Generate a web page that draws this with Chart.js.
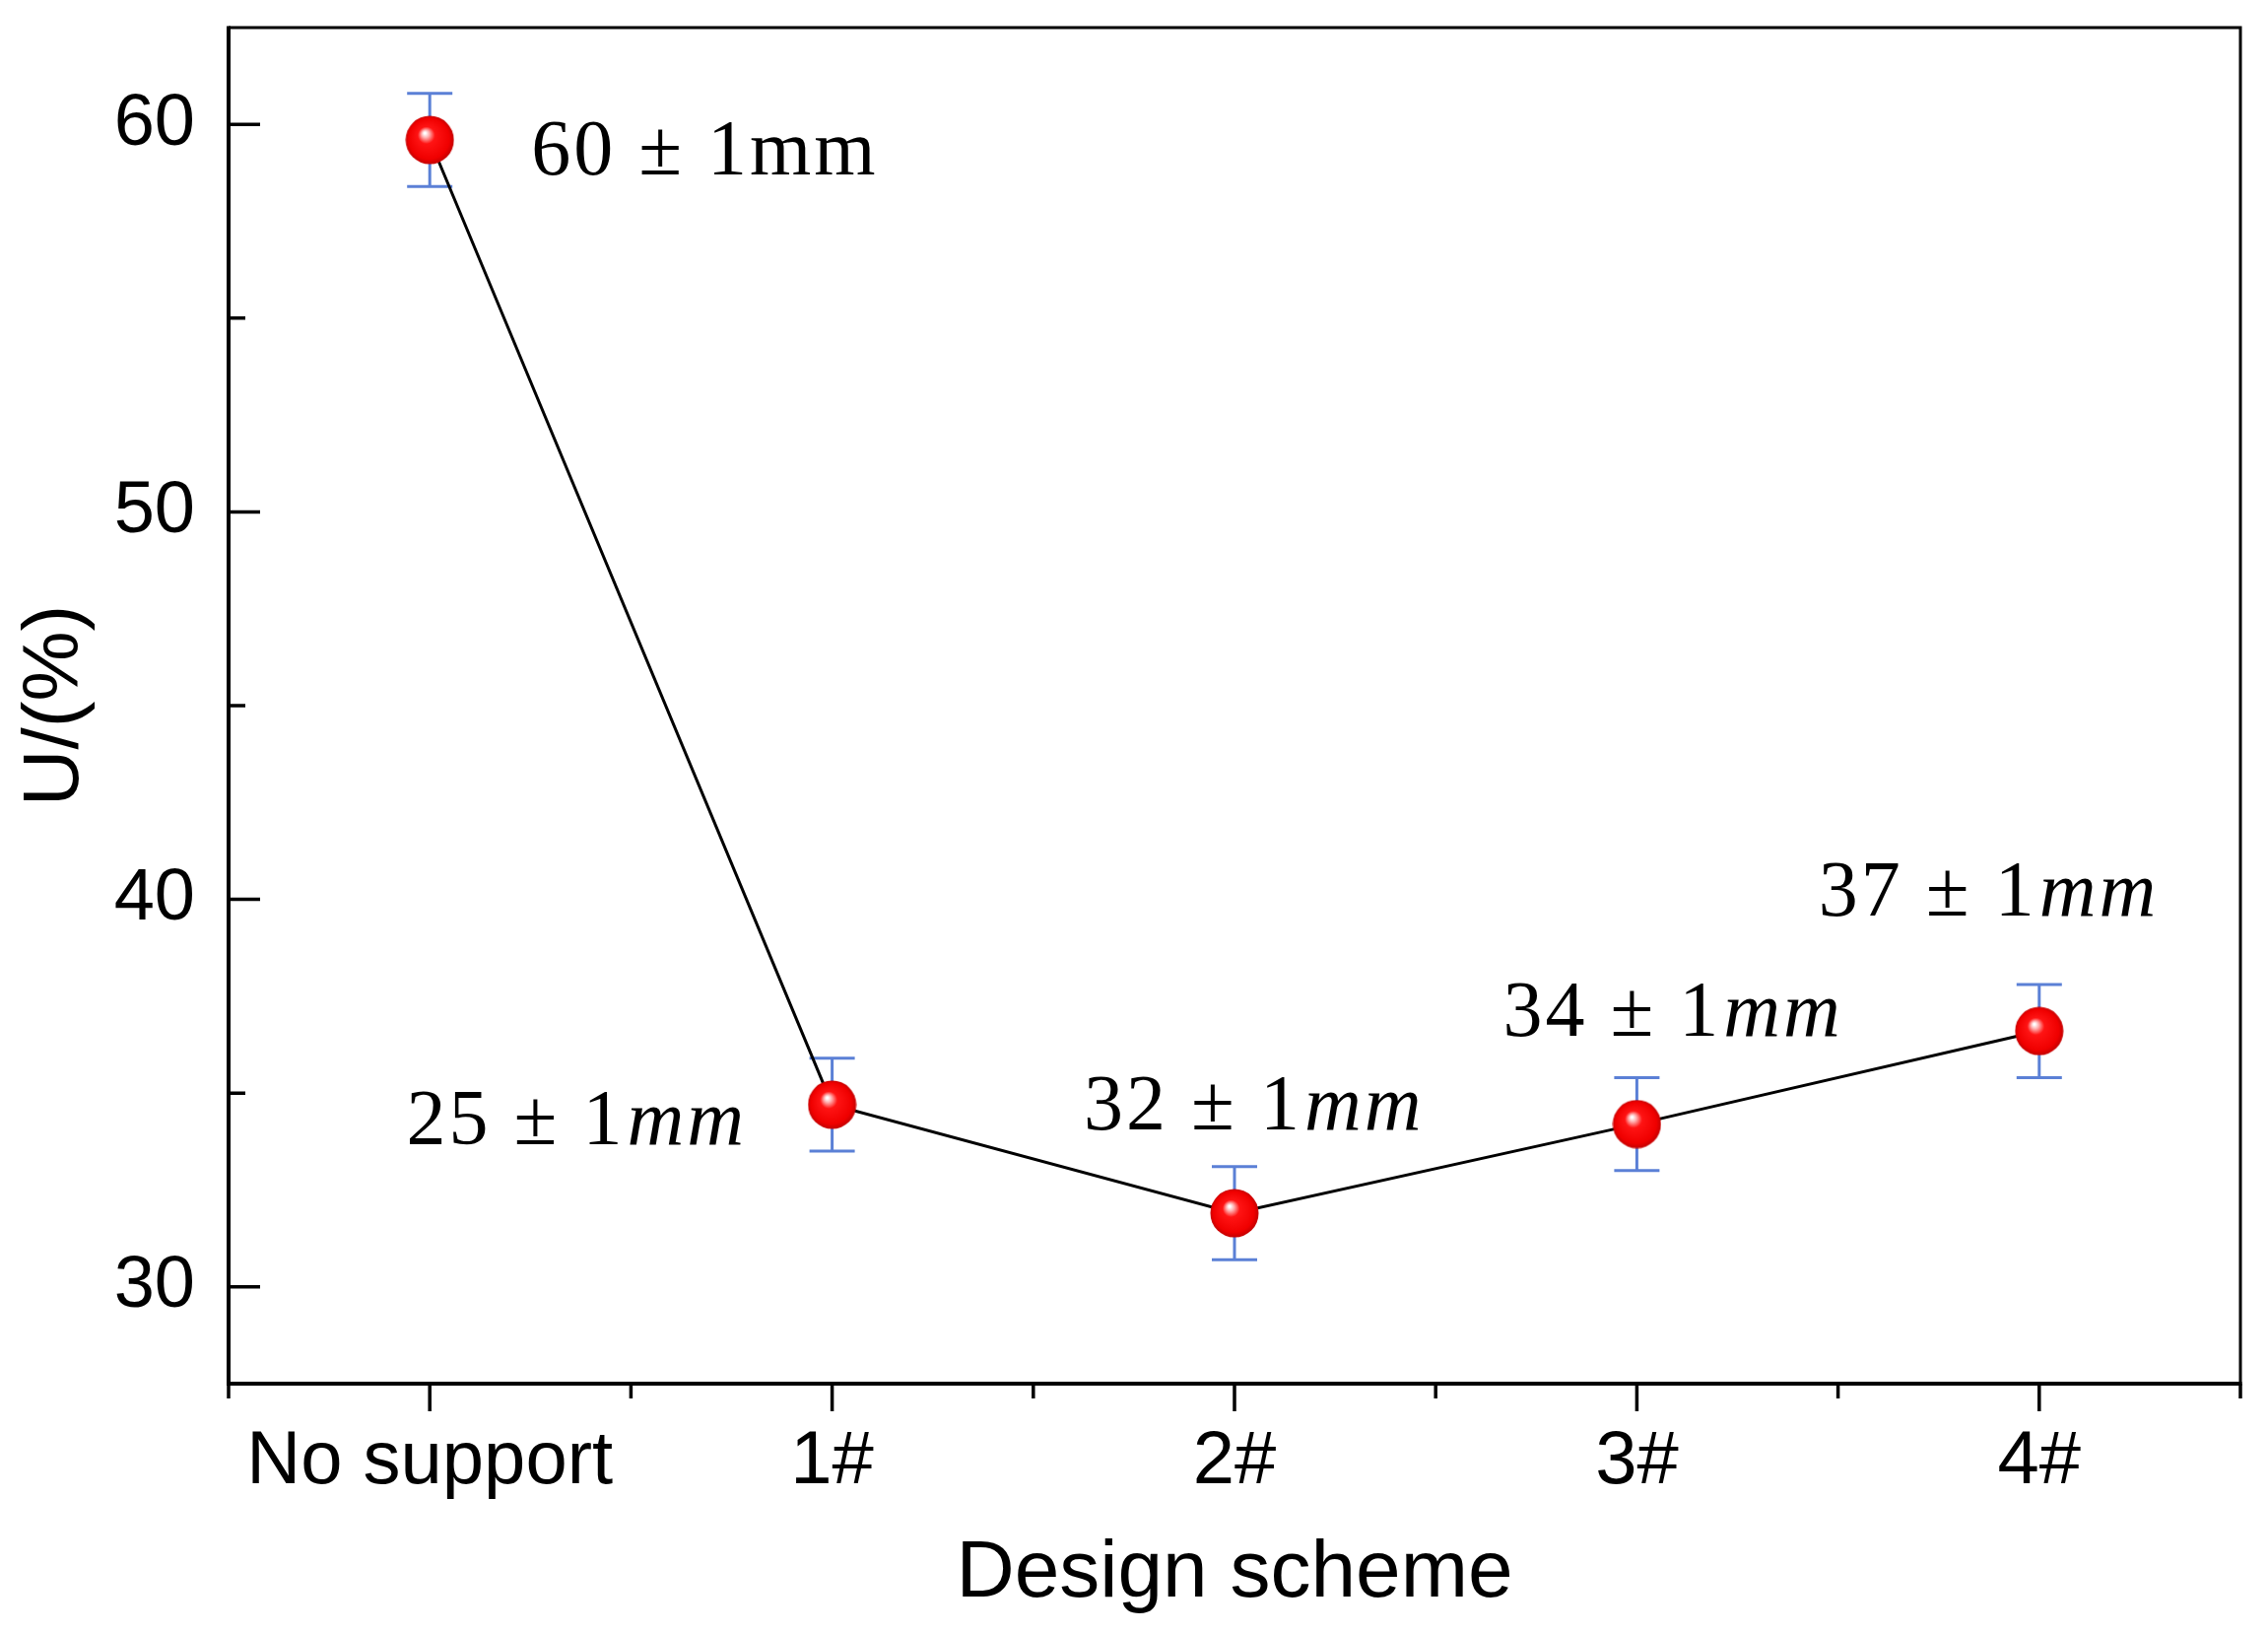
<!DOCTYPE html>
<html><head><meta charset="utf-8">
<script src="https://cdn.jsdelivr.net/npm/chart.js@4.4.1/dist/chart.umd.min.js"></script>
<style>html,body{margin:0;padding:0;background:#fff;} canvas{display:block;}</style>
</head><body>
<canvas id="c" width="2302" height="1657"></canvas>
<script>
// ---- data ----
const categories = ['No support', '1#', '2#', '3#', '4#'];
const uValues = [59.6, 34.7, 31.9, 34.2, 36.6];
const uErrors = [1.2, 1.2, 1.2, 1.2, 1.2];
const yMajorTicks = [30, 40, 50, 60];
const yMinorTicks = [35, 45, 55];
const labelNumbers = ['60', '25', '32', '34', '37'];
const labelUnit = 'mm';
const labelUnitItalic = [false, true, true, true, true];

// ---- sphere marker ----
function makeSphere(d) {
  const cv = document.createElement('canvas');
  cv.width = d; cv.height = d;
  const g = cv.getContext('2d');
  const r = d / 2;
  const grad = g.createRadialGradient(r * 0.8, r * 0.72, r * 0.04, r, r, r);
  grad.addColorStop(0, '#ffffff');
  grad.addColorStop(0.12, '#ffb0b0');
  grad.addColorStop(0.32, '#ff1414');
  grad.addColorStop(0.82, '#f00000');
  grad.addColorStop(1, '#c00000');
  g.fillStyle = grad;
  g.beginPath(); g.arc(r, r, r - 0.5, 0, Math.PI * 2); g.fill();
  return cv;
}
const sphere = makeSphere(50);

const AX = '#000000';

const errorBars = {
  id: 'errorBars',
  beforeDatasetsDraw(chart) {
    const ctx = chart.ctx, xs = chart.scales.x, ys = chart.scales.y;
    ctx.save();
    ctx.strokeStyle = '#5b80d6';
    ctx.lineWidth = 3;
    uValues.forEach((v, i) => {
      const x = xs.getPixelForValue(i);
      const yt = ys.getPixelForValue(v + uErrors[i]);
      const yb = ys.getPixelForValue(v - uErrors[i]);
      ctx.beginPath();
      ctx.moveTo(x, yt); ctx.lineTo(x, yb);
      ctx.moveTo(x - 23, yt); ctx.lineTo(x + 23, yt);
      ctx.moveTo(x - 23, yb); ctx.lineTo(x + 23, yb);
      ctx.stroke();
    });
    ctx.restore();
  }
};

const frameTicks = {
  id: 'frameTicks',
  afterDraw(chart) {
    const ctx = chart.ctx, a = chart.chartArea, xs = chart.scales.x, ys = chart.scales.y;
    ctx.save();
    ctx.strokeStyle = AX;
    ctx.lineCap = 'butt';
    ctx.lineWidth = 3;
    ctx.beginPath();
    ctx.moveTo(a.left, a.top); ctx.lineTo(a.right, a.top); ctx.lineTo(a.right, a.bottom);
    ctx.stroke();
    ctx.lineWidth = 4;
    ctx.beginPath();
    ctx.moveTo(a.left, a.top - 1.5); ctx.lineTo(a.left, a.bottom); ctx.lineTo(a.right + 1.5, a.bottom);
    ctx.stroke();
    ctx.lineWidth = 3.5;
    ctx.beginPath();
    yMajorTicks.forEach(t => { const y = ys.getPixelForValue(t); ctx.moveTo(a.left, y); ctx.lineTo(a.left + 32, y); });
    yMinorTicks.forEach(t => { const y = ys.getPixelForValue(t); ctx.moveTo(a.left, y); ctx.lineTo(a.left + 17, y); });
    const px = categories.map((c, i) => xs.getPixelForValue(i));
    px.forEach(x => { ctx.moveTo(x, a.bottom); ctx.lineTo(x, a.bottom + 28); });
    const minors = [a.left];
    for (let i = 0; i < px.length - 1; i++) minors.push((px[i] + px[i + 1]) / 2);
    minors.push(a.right);
    minors.forEach(x => { ctx.moveTo(x, a.bottom); ctx.lineTo(x, a.bottom + 15); });
    ctx.stroke();
    ctx.restore();
  }
};

const pointLabels = {
  id: 'pointLabels',
  afterDraw(chart, args, opts) {
    const ctx = chart.ctx, xs = chart.scales.x, ys = chart.scales.y;
    ctx.save();
    ctx.fillStyle = '#000';
    ctx.textBaseline = 'alphabetic';
    ctx.textAlign = 'left';
    labelNumbers.forEach((n, i) => {
      const x = xs.getPixelForValue(i) + opts.offsets[i][0];
      const y = ys.getPixelForValue(uValues[i]) + opts.offsets[i][1];
      const first = n + ' \u00b1 1';
      ctx.font = '80px "Liberation Serif"';
      try { ctx.letterSpacing = '3px'; } catch (e) {}
      ctx.fillText(first, x, y);
      const w = ctx.measureText(first).width;
      ctx.font = (labelUnitItalic[i] ? 'italic ' : '') + '80px "Liberation Serif"';
      ctx.fillText(labelUnit, x + w + (labelUnitItalic[i] ? 2 : 0), y);
    });
    ctx.restore();
  }
};

new Chart(document.getElementById('c'), {
  type: 'line',
  data: {
    labels: categories,
    datasets: [{
      data: uValues,
      borderColor: '#000',
      borderWidth: 3,
      pointStyle: sphere,
      pointRadius: 25,
      pointHoverRadius: 25,
      tension: 0,
      fill: false
    }]
  },
  options: {
    responsive: false,
    devicePixelRatio: 1,
    animation: false,
    events: [],
    layout: { padding: { top: 26, right: 22, left: 0, bottom: 0 } },
    plugins: {
      legend: { display: false },
      tooltip: { enabled: false },
      pointLabels: { offsets: [[103, 35], [-432, 40], [-153, -85], [-136, -90], [-224, -117]] }
    },
    scales: {
      x: {
        type: 'category',
        offset: true,
        grid: { display: false, drawTicks: false },
        border: { display: false },
        ticks: { color: '#000', font: { family: 'Liberation Sans', size: 76 }, padding: 34, maxRotation: 0, autoSkip: false },
        title: { display: true, text: 'Design scheme', color: '#000', font: { family: 'Liberation Sans', size: 82 }, padding: { top: 0, bottom: 10 } },
        afterFit(s) { s.height = 253; s.paddingLeft = 0; s.paddingRight = 0; }
      },
      y: {
        type: 'linear',
        min: 27.5, max: 62.5,
        afterBuildTicks(s) { s.ticks = yMajorTicks.map(v => ({ value: v })); },
        grid: { display: false, drawTicks: false },
        border: { display: false },
        ticks: { color: '#000', font: { family: 'Liberation Sans', size: 74 }, padding: 34 },
        title: { display: true, text: 'U/(%)', color: '#000', font: { family: 'Liberation Sans', size: 80 }, padding: { top: 9, bottom: 0 } },
        afterFit(s) { s.width = 232; s.paddingTop = 0; s.paddingBottom = 0; }
      }
    }
  },
  plugins: [errorBars, frameTicks, pointLabels]
});
</script>
</body></html>
